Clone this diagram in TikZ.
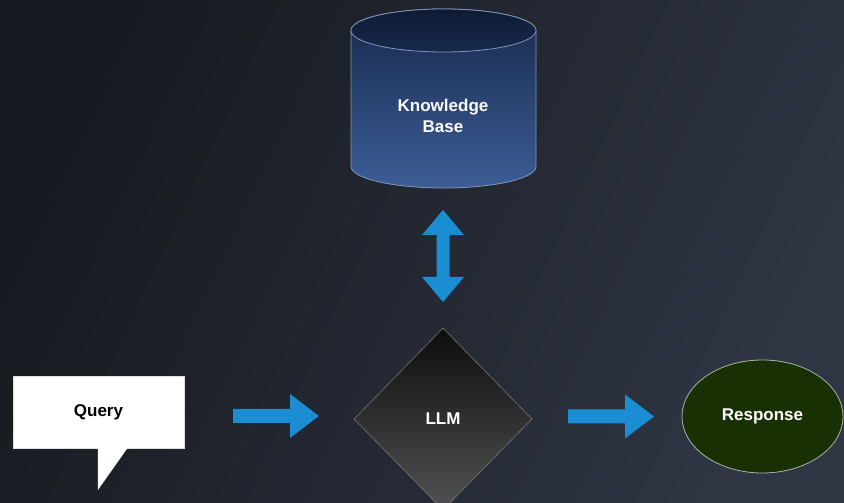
\documentclass[tikz,border=0pt]{standalone}
\usepackage{fontspec}
\setmainfont{Liberation Sans}
\usetikzlibrary{shapes.geometric,calc}
\definecolor{bgdark}{HTML}{161A20}
\definecolor{bglight}{HTML}{2F3543}
\definecolor{flowblue}{HTML}{1B8DD2}
\definecolor{kbtop}{HTML}{18294C}
\definecolor{kbbottom}{HTML}{3C5D96}
\definecolor{kblid}{HTML}{0E1B34}
\definecolor{kbline}{HTML}{7E96BE}
\definecolor{respfill}{HTML}{183004}
\definecolor{respline}{HTML}{A9B3A2}
\begin{document}
\begin{tikzpicture}[x=1pt,y=1pt,
  boldtext/.style={font=\bfseries\fontsize{17}{21}\selectfont, align=center},
  rarrow/.pic={\fill[flowblue] (0,7) -- (57,7) -- (57,22) -- (86,0) -- (57,-22) -- (57,-7) -- (0,-7) -- cycle;},
  vdarrow/.pic={\fill[flowblue] (0,46) -- (21,21) -- (6.5,21) -- (6.5,-21) -- (21,-21) -- (0,-46)
                 -- (-21,-21) -- (-6.5,-21) -- (-6.5,21) -- (-21,21) -- cycle;}]
\useasboundingbox (0,0) rectangle (844,503);
\clip (0,0) rectangle (844,503);

% background
\path[top color=bgdark, bottom color=bglight, shading angle=65] (0,0) rectangle (844,503);

% knowledge base cylinder
\path[draw=kbline, line width=0.8pt, top color=kbtop, bottom color=kbbottom]
  (351,472.5) -- (351,336.5)
  arc[start angle=180, end angle=360, x radius=92.5, y radius=21.5]
  -- (536,472.5)
  arc[start angle=0, end angle=180, x radius=92.5, y radius=21.5] -- cycle;
\path[draw=kbline, line width=0.8pt, top color=kblid, bottom color=kbtop]
  (443.5,472.5) ellipse[x radius=92.5, y radius=21.5];
\node[boldtext, text=white] (kb) at (443,387.5) {Knowledge\\Base};

% query callout
\node[boldtext, text=black, fill=white, draw=gray!25, line width=0.5pt,
      minimum width=171pt, minimum height=72pt, inner sep=0pt] (query) at (98.5,91) {Query};
\fill[white] ($(query.south west)+(85,0.5)$) -- ($(query.south west)+(85,-42)$)
  -- ($(query.south west)+(115,0.5)$) -- cycle;

% LLM diamond
\node[diamond, boldtext, text=white, minimum width=178pt, minimum height=182pt, inner sep=0pt,
      top color=black!95, bottom color=black!68, draw=black!55, line width=0.6pt] (llm) at (443,84) {LLM};

% response ellipse
\node[ellipse, boldtext, text=white, minimum width=161pt, minimum height=113pt, inner sep=0pt,
      fill=respfill, draw=respline, line width=0.8pt] (resp) at (762.5,86.5) {Response};

% flow arrows
\pic (toLLM) at (233,87) {rarrow};
\pic (toResp) at (568,86.5) {rarrow};
\pic (kbLink) at (443,247) {vdarrow};
\end{tikzpicture}
\end{document}
